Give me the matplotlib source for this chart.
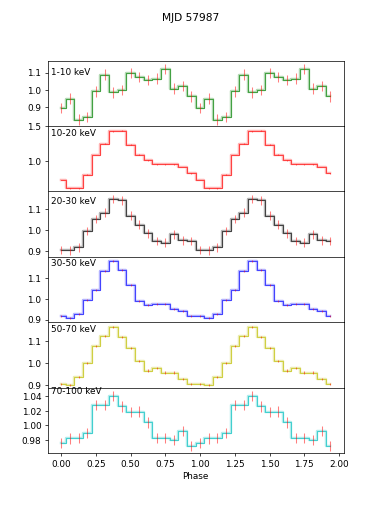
import numpy as np
import matplotlib
matplotlib.use('Agg')
import matplotlib.pyplot as plt

# Pulse profiles, 16 phase bins repeated over two cycles
phase = np.arange(32) / 16.0

bands = ['1-10 keV', '10-20 keV', '20-30 keV', '30-50 keV', '50-70 keV', '70-100 keV']

prof_1_10 = [0.896, 0.949, 0.828, 0.842, 0.991, 1.088, 0.985, 0.999,
             1.098, 1.075, 1.055, 1.065, 1.119, 1.007, 1.022, 0.962]
prof_10_20 = [0.733, 0.615, 0.615, 0.810, 1.090, 1.252, 1.429, 1.433,
              1.238, 1.095, 1.014, 0.957, 0.957, 0.957, 0.919, 0.829]
prof_20_30 = [0.903, 0.902, 0.916, 0.994, 1.053, 1.084, 1.148, 1.142,
              1.069, 1.026, 0.984, 0.947, 0.940, 0.979, 0.950, 0.948]
prof_30_50 = [0.915, 0.906, 0.926, 0.994, 1.044, 1.132, 1.181, 1.140,
              1.068, 0.989, 0.969, 0.977, 0.977, 0.953, 0.939, 0.915]
prof_50_70 = [0.906, 0.902, 0.937, 1.002, 1.078, 1.123, 1.165, 1.118,
              1.069, 1.008, 0.966, 0.977, 0.957, 0.957, 0.928, 0.906]
prof_70_100 = [0.976, 0.982, 0.983, 0.989, 1.028, 1.028, 1.041, 1.026,
               1.018, 1.019, 1.004, 0.983, 0.983, 0.980, 0.992, 0.972]

# typical 1-sigma errors per band
errs = [0.03, 0.006, 0.02, 0.005, 0.005, 0.007]

profiles = [prof_1_10, prof_10_20, prof_20_30, prof_30_50, prof_50_70, prof_70_100]
colors = ['green', 'red', 'black', 'blue', 'y', 'c']
ylims = [(0.79, 1.168), (0.57, 1.50), (0.871, 1.185), (0.887, 1.202), (0.889, 1.185), (0.962, 1.052)]
label_y = [0.79, 0.85, 0.82, 0.86, 0.85, 0.90]
yticks = [[0.9, 1.0, 1.1], [1.0, 1.5], [0.9, 1.0, 1.1], [0.9, 1.0, 1.1], [0.9, 1.0, 1.1],
          [0.98, 1.00, 1.02, 1.04]]


def main():
    fig, axes = plt.subplots(6, 1, sharex=True, figsize=(6, 8))
    fig.subplots_adjust(hspace=0)

    for ax, band, prof, err, col, yl, ly, yt in zip(axes, bands, profiles, errs,
                                                   colors, ylims, label_y, yticks):
        y = np.array(prof + prof)
        ax.step(phase, y, where='mid', color=col, lw=2.8, alpha=0.3)
        ax.step(phase, y, where='mid', color=col, lw=1.0, alpha=0.7)
        ax.errorbar(phase, y, yerr=err, fmt='none', ecolor='red', elinewidth=1.2, alpha=0.5)
        ax.text(0.01, ly, band, transform=ax.transAxes, fontsize=10)
        ax.set_ylim(*yl)
        ax.set_yticks(yt)
        if band == '70-100 keV':
            ax.set_yticklabels(['%.2f' % v for v in yt])
        else:
            ax.set_yticklabels(['%.1f' % v for v in yt])

    axes[-1].set_xticks(np.arange(0, 2.01, 0.25))
    axes[-1].set_xlabel('Phase')
    fig.suptitle('MJD 57987', y=0.975)

    fig.savefig('out.png', dpi=63.67)


if __name__ == "__main__":
    main()
